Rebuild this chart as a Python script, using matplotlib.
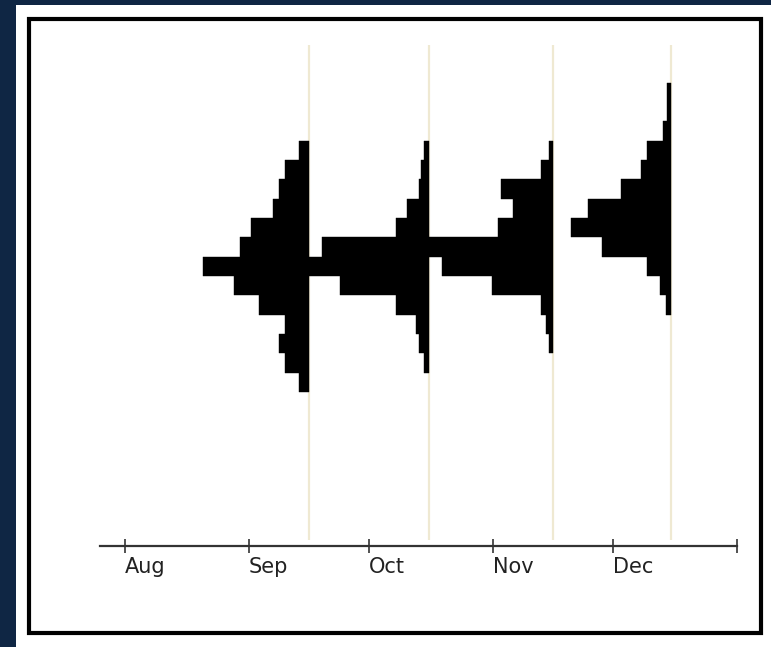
import numpy as np
import matplotlib
matplotlib.use("Agg")
import matplotlib.pyplot as plt
from matplotlib.patches import Rectangle

# x axis in days counted from 1 Aug
month_ticks = [0, 31, 61, 92, 122, 153]
month_labels = ["Aug", "Sep", "Oct", "Nov", "Dec", ""]

# each histogram hangs to the left of a mid-month line
anchors = [46, 76, 107, 136.5]
first_bin = [3, 3, 3, 0]   # index of the top bin of each histogram

# bar lengths (days) per bin, top to bottom
sep_hist = [2.5, 6, 7.5, 9, 14.5, 17.25, 26.5, 18.75, 12.5, 6, 7.5, 6, 2.5]
oct_hist = [1.25, 1.9, 2.5, 5.4, 8.1, 26.6, 30.5, 22.1, 8.1, 3.25, 2.5, 1.25]
nov_hist = [1, 3, 13, 9.9, 13.6, 31.2, 27.6, 15.1, 3, 1.75, 1]
dec_hist = [1, 1, 2, 5.9, 7.5, 12.5, 20.75, 24.9, 17.25, 5.9, 2.6, 1.25]
hists = [sep_hist, oct_hist, nov_hist, dec_hist]

navy = "#0f2644"
W, H = 771, 647

fig = plt.figure(figsize=(W / 100, H / 100), dpi=100, facecolor=navy)

# white panel and black frame (behind the axes)
fig.patches.append(Rectangle((16 / W, 0), 1 - 16 / W, (H - 5) / H,
                             transform=fig.transFigure, facecolor="white",
                             edgecolor="none", zorder=-2))
fig.patches.append(Rectangle((29 / W, (H - 633) / H), (761 - 29) / W, (633 - 18.5) / H,
                             transform=fig.transFigure, facecolor="none",
                             edgecolor="black", lw=3, zorder=-1))

# axes placed in pixels: x from 99.5 to 736.7, y from 45 to 545.5
ax = fig.add_axes([99.5 / W, (H - 545.5) / H, (736.7 - 99.5) / W, (545.5 - 45) / H])
ax.set_facecolor("none")
ax.set_zorder(2)

bin0, bin_h = 82.5, 19.35
ax.set_xlim(-6.3, 153)
ax.set_ylim((545.5 - bin0) / bin_h, (45 - bin0) / bin_h)

# mid-month guide lines
ax.vlines(anchors, (45 - bin0) / bin_h, (540 - bin0) / bin_h,
          color="#efe9d2", lw=1.6, zorder=1)

# each histogram as one stepped polygon (no seams between bins)
for a, start, vals in zip(anchors, first_bin, hists):
    vals = np.array(vals, dtype=float)
    edges = start + np.arange(len(vals) + 1)
    left = a - np.append(vals, vals[-1])
    ax.fill_betweenx(edges, left, a, step="post", facecolor="black",
                     edgecolor="black", lw=0.3, zorder=2)

for s in ["top", "left", "right"]:
    ax.spines[s].set_visible(False)
ax.spines["bottom"].set_color("#333333")
ax.spines["bottom"].set_linewidth(1.6)

ax.set_yticks([])
ax.set_xticks(month_ticks)
ax.set_xticklabels(month_labels)
ax.tick_params(axis="x", direction="inout", length=9.5, width=1.1,
               color="#222222", pad=3.5, labelsize=15, labelcolor="#222222")
for lab in ax.get_xticklabels():
    lab.set_horizontalalignment("left")

fig.savefig("out.png", dpi=100, facecolor=navy)
